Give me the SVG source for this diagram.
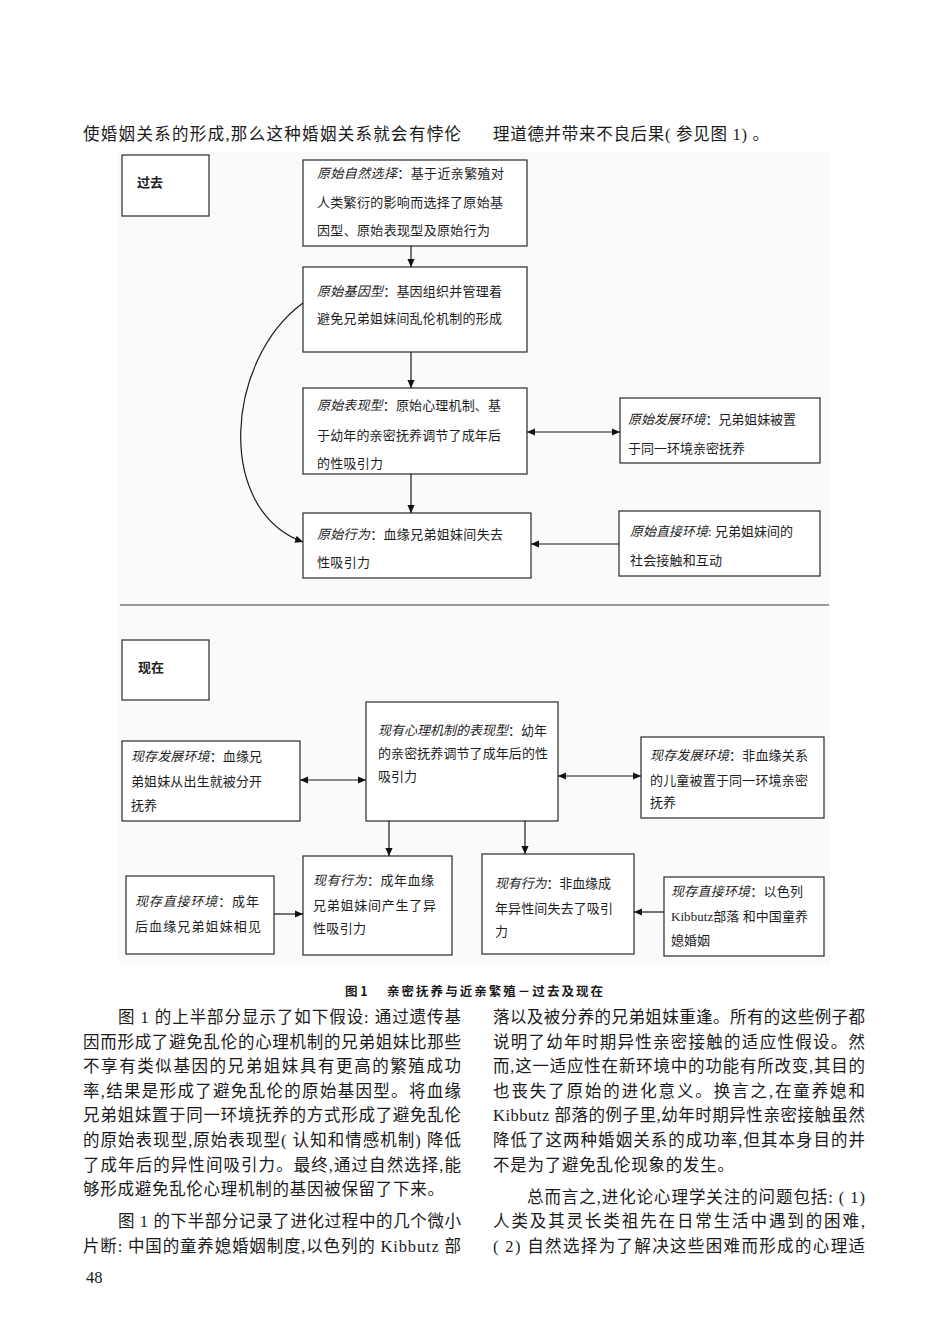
<svg xmlns="http://www.w3.org/2000/svg" width="950" height="1342" viewBox="0 0 950 1342">
<defs>
<style>
.body{font-family:"Liberation Serif","Noto Sans CJK SC",serif;font-size:16.5px;fill:#1a1a1a}
.dt{font-family:"Liberation Serif","Noto Sans CJK SC",serif;font-size:13px;fill:#1e1e1e}
.it{font-style:italic}
.hd{font-family:"Noto Sans CJK SC","Liberation Sans",sans-serif;font-size:13px;font-weight:bold;fill:#222}
.cap{font-family:"Noto Sans CJK SC","Liberation Sans",sans-serif;font-size:12.5px;font-weight:bold;fill:#1a1a1a}
.box{fill:#fff;stroke:#3a3a3a;stroke-width:1.3}
.con{fill:none;stroke:#1a1a1a;stroke-width:1.2}
</style>
<marker id="ah" viewBox="0 0 10 10" refX="10" refY="5" markerWidth="8" markerHeight="8" markerUnits="userSpaceOnUse" orient="auto-start-reverse">
<path d="M0,0.5 L10,5 L0,9.5 z" fill="#111"/>
</marker>
</defs>
<rect width="950" height="1342" fill="#fff"/>

<!-- top text -->
<text class="body" x="83" y="140" textLength="378" lengthAdjust="spacing">使婚姻关系的形成,那么这种婚姻关系就会有悖伦</text>
<text class="body" x="493" y="140" letter-spacing="0.7">理道德并带来不良后果( 参见图 1) 。</text>

<!-- diagram background -->
<rect x="119" y="152" width="711" height="813" fill="#fafafa"/>
<line x1="120" y1="605" x2="829" y2="605" stroke="#999" stroke-width="2"/>

<!-- upper half -->
<g id="past">
<rect class="box" x="122" y="155" width="87" height="61"/>
<text class="hd" x="137" y="187">过去</text>
</g>
<g id="n1">
<rect class="box" x="303" y="160" width="224" height="86"/>
<text class="dt" x="317" y="178" textLength="187" lengthAdjust="spacing"><tspan class="it">原始自然选择</tspan>：基于近亲繁殖对</text>
<text class="dt" x="317" y="207" textLength="186" lengthAdjust="spacing">人类繁衍的影响而选择了原始基</text>
<text class="dt" x="317" y="235" textLength="173" lengthAdjust="spacing">因型、原始表现型及原始行为</text>
</g>
<g id="n2">
<rect class="box" x="303" y="267" width="224" height="85"/>
<text class="dt" x="317" y="296" textLength="185" lengthAdjust="spacing"><tspan class="it">原始基因型</tspan>：基因组织并管理着</text>
<text class="dt" x="317" y="323" textLength="185" lengthAdjust="spacing">避免兄弟姐妹间乱伦机制的形成</text>
</g>
<g id="n3">
<rect class="box" x="303" y="388" width="224" height="86"/>
<text class="dt" x="317" y="410" textLength="184" lengthAdjust="spacing"><tspan class="it">原始表现型</tspan>：原始心理机制、基</text>
<text class="dt" x="317" y="440" textLength="184" lengthAdjust="spacing">于幼年的亲密抚养调节了成年后</text>
<text class="dt" x="317" y="468" textLength="66" lengthAdjust="spacing">的性吸引力</text>
</g>
<g id="n4">
<rect class="box" x="620" y="398" width="200" height="65"/>
<text class="dt" x="628" y="424" textLength="168" lengthAdjust="spacing"><tspan class="it">原始发展环境</tspan>：兄弟姐妹被置</text>
<text class="dt" x="628" y="453" textLength="117" lengthAdjust="spacing">于同一环境亲密抚养</text>
</g>
<g id="n5">
<rect class="box" x="303" y="513" width="228" height="65"/>
<text class="dt" x="317" y="539" textLength="186" lengthAdjust="spacing"><tspan class="it">原始行为</tspan>：血缘兄弟姐妹间失去</text>
<text class="dt" x="317" y="567" textLength="53" lengthAdjust="spacing">性吸引力</text>
</g>
<g id="n6">
<rect class="box" x="619" y="511" width="201" height="65"/>
<text class="dt" x="630" y="536" textLength="163" lengthAdjust="spacing"><tspan class="it">原始直接环境</tspan>: 兄弟姐妹间的</text>
<text class="dt" x="630" y="565" textLength="92" lengthAdjust="spacing">社会接触和互动</text>
</g>

<!-- lower half -->
<g id="now">
<rect class="box" x="122" y="640" width="87" height="60"/>
<text class="hd" x="138" y="672">现在</text>
</g>
<g id="m1">
<rect class="box" x="122" y="741" width="178" height="80"/>
<text class="dt" x="131" y="761" textLength="131" lengthAdjust="spacing"><tspan class="it">现存发展环境</tspan>：血缘兄</text>
<text class="dt" x="131" y="786" textLength="131" lengthAdjust="spacing">弟姐妹从出生就被分开</text>
<text class="dt" x="131" y="809.5" textLength="26" lengthAdjust="spacing">抚养</text>
</g>
<g id="m2">
<rect class="box" x="366" y="702" width="192" height="119"/>
<text class="dt" x="378" y="734.5" textLength="169" lengthAdjust="spacing"><tspan class="it">现有心理机制的表现型</tspan>：幼年</text>
<text class="dt" x="378" y="758" textLength="170" lengthAdjust="spacing">的亲密抚养调节了成年后的性</text>
<text class="dt" x="378" y="781" textLength="39" lengthAdjust="spacing">吸引力</text>
</g>
<g id="m3">
<rect class="box" x="641" y="737" width="183" height="81"/>
<text class="dt" x="650" y="759.5" textLength="158" lengthAdjust="spacing"><tspan class="it">现存发展环境</tspan>：非血缘关系</text>
<text class="dt" x="650" y="784.5" textLength="158" lengthAdjust="spacing">的儿童被置于同一环境亲密</text>
<text class="dt" x="650" y="807" textLength="26" lengthAdjust="spacing">抚养</text>
</g>
<g id="m4">
<rect class="box" x="126" y="876" width="148" height="78"/>
<text class="dt" x="135" y="906" textLength="124" lengthAdjust="spacing"><tspan class="it">现存直接环境</tspan>：成年</text>
<text class="dt" x="135" y="931" textLength="126" lengthAdjust="spacing">后血缘兄弟姐妹相见</text>
</g>
<g id="m5">
<rect class="box" x="303" y="856" width="149" height="99"/>
<text class="dt" x="313" y="884.5" textLength="121" lengthAdjust="spacing"><tspan class="it">现有行为</tspan>：成年血缘</text>
<text class="dt" x="313" y="909.5" textLength="123" lengthAdjust="spacing">兄弟姐妹间产生了异</text>
<text class="dt" x="313" y="933" textLength="53" lengthAdjust="spacing">性吸引力</text>
</g>
<g id="m6">
<rect class="box" x="482" y="854" width="152" height="100"/>
<text class="dt" x="495" y="888" textLength="116" lengthAdjust="spacing"><tspan class="it">现有行为</tspan>：非血缘成</text>
<text class="dt" x="495" y="913" textLength="118" lengthAdjust="spacing">年异性间失去了吸引</text>
<text class="dt" x="495" y="936">力</text>
</g>
<g id="m7">
<rect class="box" x="664" y="877" width="160" height="79"/>
<text class="dt" x="671" y="896" textLength="132" lengthAdjust="spacing"><tspan class="it">现存直接环境</tspan>：以色列</text>
<text class="dt" x="671" y="920.5" textLength="137" lengthAdjust="spacing">Kibbutz部落 和中国童养</text>
<text class="dt" x="671" y="944.5" textLength="39" lengthAdjust="spacing">媳婚姻</text>
</g>

<!-- connectors -->
<g id="connectors">
<path class="con" d="M411,246 V267" marker-end="url(#ah)"/>
<path class="con" d="M411,352 V388" marker-end="url(#ah)"/>
<path class="con" d="M411,474 V513" marker-end="url(#ah)"/>
<path class="con" d="M527,432 H620" marker-start="url(#ah)" marker-end="url(#ah)"/>
<path class="con" d="M619,544 H531" marker-end="url(#ah)"/>
<path class="con" d="M303,303 C225,360 215,510 303,542" marker-end="url(#ah)"/>
<path class="con" d="M300,780 H366" marker-start="url(#ah)" marker-end="url(#ah)"/>
<path class="con" d="M558,776 H641" marker-start="url(#ah)" marker-end="url(#ah)"/>
<path class="con" d="M389,821 V856" marker-end="url(#ah)"/>
<path class="con" d="M525,821 V854" marker-end="url(#ah)"/>
<path class="con" d="M274,914 H303" marker-end="url(#ah)"/>
<path class="con" d="M664,912 H634" marker-end="url(#ah)"/>
</g>

<!-- caption -->
<text class="cap" x="345" y="996">图 1</text>
<text class="cap" x="387" y="996" textLength="216" lengthAdjust="spacing">亲密抚养与近亲繁殖－过去及现在</text>

<!-- body text left -->
<text class="body" x="118" y="1023" textLength="343" lengthAdjust="spacing">图 1 的上半部分显示了如下假设: 通过遗传基</text>
<text class="body" x="83" y="1047.6" textLength="378" lengthAdjust="spacing">因而形成了避免乱伦的心理机制的兄弟姐妹比那些</text>
<text class="body" x="83" y="1072.2" textLength="378" lengthAdjust="spacing">不享有类似基因的兄弟姐妹具有更高的繁殖成功</text>
<text class="body" x="83" y="1096.8" textLength="378" lengthAdjust="spacing">率,结果是形成了避免乱伦的原始基因型。将血缘</text>
<text class="body" x="83" y="1121.4" textLength="378" lengthAdjust="spacing">兄弟姐妹置于同一环境抚养的方式形成了避免乱伦</text>
<text class="body" x="83" y="1146" textLength="378" lengthAdjust="spacing">的原始表现型,原始表现型( 认知和情感机制) 降低</text>
<text class="body" x="83" y="1170.6" textLength="378" lengthAdjust="spacing">了成年后的异性间吸引力。最终,通过自然选择,能</text>
<text class="body" x="83" y="1195.2" textLength="361" lengthAdjust="spacing">够形成避免乱伦心理机制的基因被保留了下来。</text>
<text class="body" x="118" y="1227.2" textLength="343" lengthAdjust="spacing">图 1 的下半部分记录了进化过程中的几个微小</text>
<text class="body" x="83" y="1251.8" textLength="378" lengthAdjust="spacing">片断: 中国的童养媳婚姻制度,以色列的 Kibbutz 部</text>
<text class="body" x="86" y="1283">48</text>

<!-- body text right -->
<text class="body" x="493" y="1023" textLength="372" lengthAdjust="spacing">落以及被分养的兄弟姐妹重逢。所有的这些例子都</text>
<text class="body" x="493" y="1047.6" textLength="372" lengthAdjust="spacing">说明了幼年时期异性亲密接触的适应性假设。然</text>
<text class="body" x="493" y="1072.2" textLength="372" lengthAdjust="spacing">而,这一适应性在新环境中的功能有所改变,其目的</text>
<text class="body" x="493" y="1096.8" textLength="372" lengthAdjust="spacing">也丧失了原始的进化意义。换言之,在童养媳和</text>
<text class="body" x="493" y="1121.4" textLength="372" lengthAdjust="spacing">Kibbutz 部落的例子里,幼年时期异性亲密接触虽然</text>
<text class="body" x="493" y="1146" textLength="372" lengthAdjust="spacing">降低了这两种婚姻关系的成功率,但其本身目的并</text>
<text class="body" x="493" y="1170.6" textLength="241" lengthAdjust="spacing">不是为了避免乱伦现象的发生。</text>
<text class="body" x="527" y="1202.6" textLength="338" lengthAdjust="spacing">总而言之,进化论心理学关注的问题包括: ( 1)</text>
<text class="body" x="493" y="1227.2" textLength="372" lengthAdjust="spacing">人类及其灵长类祖先在日常生活中遇到的困难,</text>
<text class="body" x="493" y="1251.8" textLength="372" lengthAdjust="spacing">( 2) 自然选择为了解决这些困难而形成的心理适</text>
</svg>
